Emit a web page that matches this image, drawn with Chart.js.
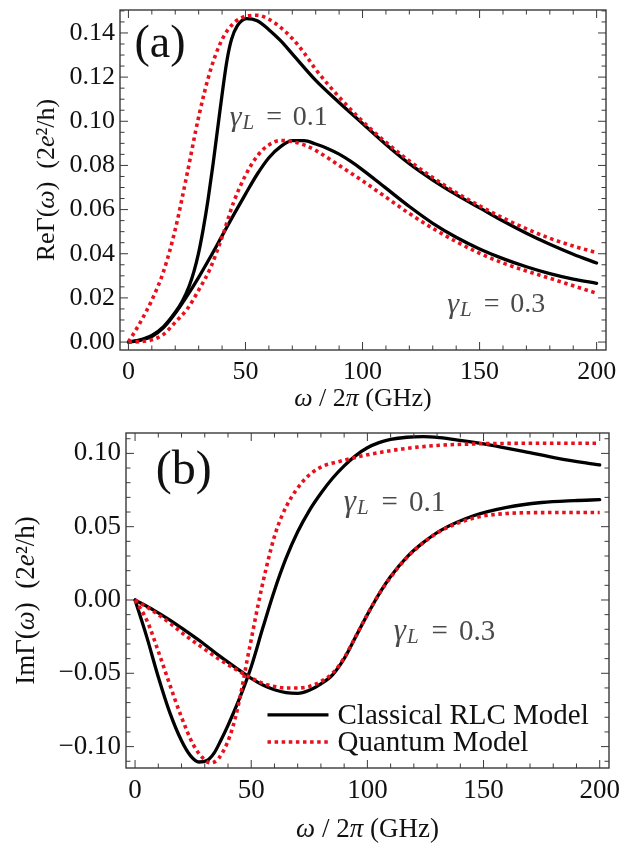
<!DOCTYPE html>
<html><head><meta charset="utf-8">
<script src="https://cdn.jsdelivr.net/npm/chart.js@4.4.1/dist/chart.umd.min.js"></script>
<style>
html,body{margin:0;padding:0;background:#fff;width:624px;height:846px;overflow:hidden}
#wa{position:absolute;left:0;top:0;width:624px;height:420px}
#wb{position:absolute;left:0;top:420px;width:624px;height:426px}
canvas{display:block}
</style></head><body>
<div id="wa"><canvas id="ca" width="624" height="420"></canvas></div>
<div id="wb"><canvas id="cb" width="624" height="426"></canvas></div>
<script>
// ---------- Panel (a): Re Γ(ω) ----------
const aX_classical01 = [0, 5, 10, 15, 20, 23, 26, 28, 30, 32, 34, 36.2, 39, 42, 44, 46.5, 50.5, 55, 60, 65, 70, 80, 90, 100, 110, 120, 130, 140, 150, 160, 170, 180, 190, 200];
const aY_classical01 = [0, 0.001, 0.003, 0.007, 0.0135, 0.0185, 0.0255, 0.032, 0.0405, 0.0515, 0.0645, 0.081, 0.104, 0.127, 0.137, 0.1432, 0.1465, 0.1455, 0.1415, 0.1365, 0.1305, 0.1185, 0.1085, 0.0990, 0.0895, 0.0808, 0.0734, 0.0668, 0.0608, 0.0548, 0.0493, 0.0443, 0.0398, 0.0358];
const aX_quantum01 = [0, 5, 10, 15, 20, 25, 30, 35, 40, 45, 50, 55, 60, 65, 70, 75, 80, 90, 100, 110, 120, 130, 140, 150, 160, 170, 180, 190, 200];
const aY_quantum01 = [0, 0.0088, 0.019, 0.032, 0.051, 0.0758, 0.102, 0.123, 0.137, 0.1445, 0.1475, 0.148, 0.1462, 0.1425, 0.1375, 0.1310, 0.1235, 0.1110, 0.1000, 0.0905, 0.0820, 0.0745, 0.0677, 0.0617, 0.0562, 0.0513, 0.0470, 0.0435, 0.0405];
const aX_classical03 = [0, 5, 10, 15, 20, 25, 30, 35, 40, 45, 50, 55, 60, 65, 70, 75, 80, 85, 90, 95, 100, 110, 120, 130, 140, 150, 160, 170, 180, 190, 200];
const aY_classical03 = [0, 0.0008, 0.0025, 0.0065, 0.0130, 0.0208, 0.0293, 0.0385, 0.0481, 0.0577, 0.0670, 0.0760, 0.0835, 0.0885, 0.0912, 0.0912, 0.0897, 0.0877, 0.0851, 0.0818, 0.0780, 0.0697, 0.0614, 0.0538, 0.0475, 0.0422, 0.0378, 0.0341, 0.0310, 0.0285, 0.0266];
const aX_quantum03 = [0, 5, 10, 15, 20, 25, 30, 35, 40, 45, 50, 55, 60, 65, 70, 75, 80, 90, 100, 110, 120, 130, 140, 150, 160, 170, 180, 190, 200];
const aY_quantum03 = [0, 0.0002, 0.001, 0.0035, 0.009, 0.0148, 0.0235, 0.0335, 0.0475, 0.0635, 0.0755, 0.0842, 0.0893, 0.0913, 0.0908, 0.0893, 0.0868, 0.0800, 0.0730, 0.0656, 0.0582, 0.0515, 0.0455, 0.0402, 0.0358, 0.0322, 0.0289, 0.0255, 0.0221];
const aYTicks = [0, 0.02, 0.04, 0.06, 0.08, 0.10, 0.12, 0.14];

// ---------- Panel (b): Im Γ(ω) ----------
const bX_classical01 = [0, 5, 10, 15, 20, 24, 27.5, 31, 34, 37, 40, 45, 50, 55, 60, 65, 70, 75, 80, 85, 90, 95, 100, 105, 110, 117, 124, 131, 139, 153, 167.6, 182, 200];
const bY_classical01 = [0, -0.025, -0.0525, -0.077, -0.096, -0.1065, -0.1105, -0.1095, -0.1045, -0.0955, -0.0855, -0.067, -0.0455, -0.019, 0.0065, 0.0285, 0.0465, 0.0610, 0.0728, 0.0830, 0.0915, 0.0985, 0.1038, 0.1073, 0.1095, 0.111, 0.1114, 0.1107, 0.1091, 0.1057, 0.1012, 0.0966, 0.0921];
const bX_quantum01 = [0, 5, 10, 15, 20, 25, 29, 32.5, 36, 39.6, 42, 44, 46, 48, 50, 53, 56.5, 60.5, 65.5, 72.6, 79.8, 88, 100, 115, 130, 145, 160, 175, 200];
const bY_quantum01 = [0, -0.0136, -0.035, -0.058, -0.080, -0.0985, -0.1075, -0.1112, -0.108, -0.0978, -0.087, -0.075, -0.060, -0.043, -0.027, -0.003, 0.022, 0.046, 0.065, 0.0815, 0.0905, 0.0945, 0.0990, 0.1030, 0.1054, 0.1064, 0.1068, 0.1069, 0.1069];
const bX_classical03 = [0, 8, 15, 22, 29, 36, 43, 50, 55, 60, 65, 70, 75, 80, 85, 90, 95, 100, 105, 110, 117, 124, 131.6, 146, 160, 175, 189, 200];
const bY_classical03 = [0, -0.0069, -0.0137, -0.0213, -0.0292, -0.0378, -0.0458, -0.0535, -0.0580, -0.0612, -0.0632, -0.0637, -0.0616, -0.0572, -0.0510, -0.0400, -0.0250, -0.0100, 0.0040, 0.0160, 0.0293, 0.0391, 0.0475, 0.0576, 0.0632, 0.0665, 0.0678, 0.0684];
const bX_quantum03 = [0, 8, 15, 22, 29, 36, 43, 50, 55, 60, 65, 70, 75, 80, 85, 90, 95, 100, 105, 110, 117, 124, 131.6, 146, 160, 175, 200];
const bY_quantum03 = [0, -0.0078, -0.0158, -0.0246, -0.0325, -0.0402, -0.0470, -0.0532, -0.0568, -0.0590, -0.0600, -0.0600, -0.0590, -0.0556, -0.0500, -0.0395, -0.0248, -0.0098, 0.0040, 0.0155, 0.0290, 0.0390, 0.0472, 0.0560, 0.0590, 0.0596, 0.0597];
const bYTicks = [-0.10, -0.05, 0, 0.05, 0.10];

const xTicks = [0, 50, 100, 150, 200];
const seriesNames = ['Classical RLC Model', 'Quantum Model'];
const gammaValues = ['0.1', '0.3'];
// axis titles as [text, italic] runs
const xTitleRuns = [['\u03C9', true], [' / 2', false], ['\u03C0', true], [' (GHz)', false]];
const aYTitleRuns = [['Re\u0393(', false], ['\u03C9', true], [')  (2', false], ['e', true], ['\u00B2/h)', false]];
const bYTitleRuns = [['Im\u0393(', false], ['\u03C9', true], [')  (2', false], ['e', true], ['\u00B2/h)', false]];

const SERIF = '"Liberation Serif", "Times New Roman", serif';
const BLACK = '#000000';
const RED = '#e8101c';

function pts(xs, ys) { return xs.map((x, i) => ({x: x, y: ys[i]})); }
function fmt(v) { return v.toFixed(2).replace('-', '\u2212'); }

function classicalDs(label, xs, ys) {
  return {label, data: pts(xs, ys), borderColor: BLACK, borderWidth: 3.3, pointRadius: 0,
    fill: false, cubicInterpolationMode: 'monotone', order: 2, borderCapStyle: 'round'};
}
function quantumDs(label, xs, ys) {
  return {label, data: pts(xs, ys), borderColor: RED, borderWidth: 3.6, borderDash: [3.5, 3.6], pointRadius: 0,
    fill: false, cubicInterpolationMode: 'monotone', order: 1, borderCapStyle: 'butt'};
}

const framePlugin = {
  id: 'frameTicks',
  afterDraw(chart, args, o) {
    const {ctx, chartArea: {left, right, top, bottom}, scales: {x, y}} = chart;
    ctx.save();
    ctx.strokeStyle = '#3a3a3a';
    ctx.lineWidth = 1.4;
    ctx.strokeRect(left, top, right - left, bottom - top);
    ctx.lineWidth = 1;
    const line = (x1, y1, x2, y2) => { ctx.beginPath(); ctx.moveTo(x1, y1); ctx.lineTo(x2, y2); ctx.stroke(); };
    for (let i = 0; i <= o.xCount; i++) {
      const v = o.xStart + i * o.xStep;
      const p = x.getPixelForValue(v);
      const L = (i % o.xMajorEvery === 0) ? 8 : 4.5;
      line(p, bottom, p, bottom - L); line(p, top, p, top + L);
    }
    for (let i = 0; i <= o.yCount; i++) {
      const v = o.yStart + i * o.yStep;
      const p = y.getPixelForValue(v);
      if (p < top - 0.5 || p > bottom + 0.5) continue;
      const L = (((i - o.yMajorOffset) % o.yMajorEvery) === 0) ? 8 : 4.5;
      line(left, p, left + L, p); line(right, p, right - L, p);
    }
    ctx.restore();
  }
};

function richWidth(ctx, runs, size) {
  let w = 0;
  runs.forEach(r => { ctx.font = (r[1] ? 'italic ' : '') + size + 'px ' + SERIF; w += ctx.measureText(r[0]).width; });
  return w;
}
function drawRich(ctx, runs, cx, cy, size, rot) {
  ctx.save();
  ctx.translate(cx, cy);
  if (rot) ctx.rotate(rot);
  ctx.fillStyle = '#111';
  ctx.textBaseline = 'middle';
  ctx.textAlign = 'left';
  let xx = -richWidth(ctx, runs, size) / 2;
  runs.forEach(r => {
    ctx.font = (r[1] ? 'italic ' : '') + size + 'px ' + SERIF;
    ctx.fillText(r[0], xx, 0);
    xx += ctx.measureText(r[0]).width;
  });
  ctx.restore();
}

function drawGamma(ctx, px, py, val, size) {
  ctx.save();
  ctx.fillStyle = '#4a4a4a';
  ctx.textBaseline = 'middle';
  ctx.textAlign = 'left';
  ctx.font = 'italic ' + Math.round(size * 1.08) + 'px ' + SERIF;
  ctx.fillText('\u03B3', px, py);
  let w = ctx.measureText('\u03B3').width;
  ctx.font = 'italic ' + Math.round(size * 0.74) + 'px ' + SERIF;
  ctx.fillText('L', px + w + 1, py + size * 0.2);
  ctx.font = size + 'px ' + SERIF;
  ctx.fillText('=', px + size * 1.3, py);
  ctx.fillText(val, px + size * 2.25, py);
  ctx.restore();
}

const annotPlugin = {
  id: 'annot',
  afterDraw(chart, args, o) {
    const {ctx, chartArea, scales: {x, y}} = chart;
    // axis titles
    drawRich(ctx, xTitleRuns, (chartArea.left + chartArea.right) / 2, chart.height - o.xTitleFromBottom, o.titleSize, 0);
    drawRich(ctx, o.yTitleRuns, o.yTitleX, (chartArea.top + chartArea.bottom) / 2, o.titleSize, -Math.PI / 2);
    // panel letter
    ctx.save();
    ctx.fillStyle = '#111';
    ctx.textAlign = 'center';
    ctx.textBaseline = 'middle';
    ctx.font = o.panelSize + 'px ' + SERIF;
    ctx.fillText(o.panel, x.getPixelForValue(o.panelAt[0]), y.getPixelForValue(o.panelAt[1]));
    ctx.restore();
    o.gammas.forEach(g => drawGamma(ctx, x.getPixelForValue(g.at[0]), y.getPixelForValue(g.at[1]), g.val, o.gSize));
    if (o.legend) {
      const ds = chart.data.datasets;
      const entries = [ds.find(d => d.borderColor === BLACK), ds.find(d => d.borderColor === RED)];
      const lx = x.getPixelForValue(o.legend.at[0]);
      let ly = y.getPixelForValue(o.legend.at[1]);
      entries.forEach(d => {
        ctx.save();
        ctx.strokeStyle = d.borderColor; ctx.lineWidth = d.borderWidth;
        ctx.setLineDash(d.borderDash || []);
        ctx.beginPath(); ctx.moveTo(lx, ly); ctx.lineTo(lx + 61, ly); ctx.stroke();
        ctx.setLineDash([]);
        ctx.fillStyle = '#111'; ctx.textAlign = 'left'; ctx.textBaseline = 'middle';
        ctx.font = o.legend.size + 'px ' + SERIF;
        ctx.fillText(d.label, lx + 70, ly + 1);
        ctx.restore();
        ly += o.legend.gap;
      });
    }
  }
};

function makeChart(id, cfg) {
  return new Chart(document.getElementById(id), {
    type: 'line',
    data: {datasets: cfg.datasets},
    options: {
      responsive: false, animation: false, devicePixelRatio: 1,
      layout: {padding: cfg.padding},
      plugins: {legend: {display: false}, tooltip: {enabled: false},
        frameTicks: cfg.frame, annot: cfg.annot},
      scales: {
        x: {type: 'linear', min: cfg.xMin, max: cfg.xMax,
          grid: {display: false, drawTicks: false}, border: {display: false},
          afterBuildTicks: s => { s.ticks = xTicks.map(v => ({value: v})); },
          afterFit: s => { s.height = cfg.xHeight; s.paddingLeft = 0; s.paddingRight = 0; },
          ticks: {font: {family: SERIF, size: cfg.tickSize}, color: '#111', padding: cfg.xTickPad, maxRotation: 0, autoSkip: false,
            callback: v => String(v)},
          title: {display: false}
        },
        y: {type: 'linear', min: cfg.yMin, max: cfg.yMax,
          grid: {display: false, drawTicks: false}, border: {display: false},
          afterBuildTicks: s => { s.ticks = cfg.yTicks.map(v => ({value: v})); },
          afterFit: s => { s.width = cfg.yWidth; s.paddingTop = 0; s.paddingBottom = 0; },
          ticks: {font: {family: SERIF, size: cfg.tickSize}, color: '#111', padding: 5, autoSkip: false,
            callback: v => fmt(v)},
          title: {display: false}
        }
      }
    },
    plugins: [framePlugin, annotPlugin]
  });
}

makeChart('ca', {
  datasets: [
    classicalDs(seriesNames[0], aX_classical01, aY_classical01),
    quantumDs(seriesNames[1], aX_quantum01, aY_quantum01),
    classicalDs(seriesNames[0], aX_classical03, aY_classical03),
    quantumDs(seriesNames[1], aX_quantum03, aY_quantum03)
  ],
  padding: {top: 10, right: 18, left: 0, bottom: 0},
  xMin: -3.6, xMax: 204, yMin: -0.0036, yMax: 0.1504,
  yTicks: aYTicks, xHeight: 70, yWidth: 120, tickSize: 26,
  xTickPad: 7,
  frame: {xStart: 0, xStep: 10, xCount: 20, xMajorEvery: 5, yStart: 0, yStep: 0.005, yCount: 30, yMajorEvery: 4, yMajorOffset: 0},
  annot: {panel: '(a)', panelAt: [13.5, 0.1345], panelSize: 46, gSize: 28,
    titleSize: 26, xTitleFromBottom: 21, yTitleRuns: aYTitleRuns, yTitleX: 47,
    gammas: [{val: gammaValues[0], at: [43.3, 0.1015]}, {val: gammaValues[1], at: [136.2, 0.0168]}]}
});

makeChart('cb', {
  datasets: [
    classicalDs(seriesNames[0], bX_classical01, bY_classical01),
    quantumDs(seriesNames[1], bX_quantum01, bY_quantum01),
    classicalDs(seriesNames[0], bX_classical03, bY_classical03),
    quantumDs(seriesNames[1], bX_quantum03, bY_quantum03)
  ],
  padding: {top: 13, right: 15, left: 0, bottom: 0},
  xMin: -3.9, xMax: 204, yMin: -0.1146, yMax: 0.1139,
  yTicks: bYTicks, xHeight: 78, yWidth: 126, tickSize: 27,
  xTickPad: 7,
  frame: {xStart: 0, xStep: 10, xCount: 20, xMajorEvery: 5, yStart: -0.11, yStep: 0.01, yCount: 22, yMajorEvery: 5, yMajorOffset: 1},
  annot: {panel: '(b)', panelAt: [21, 0.088], panelSize: 48, gSize: 29,
    titleSize: 27, xTitleFromBottom: 16, yTitleRuns: bYTitleRuns, yTitleX: 27,
    gammas: [{val: gammaValues[0], at: [89.8, 0.0662]}, {val: gammaValues[1], at: [111.4, -0.0218]}],
    legend: {at: [57, -0.0784], gap: 27, size: 29}}
});
</script>
</body></html>
